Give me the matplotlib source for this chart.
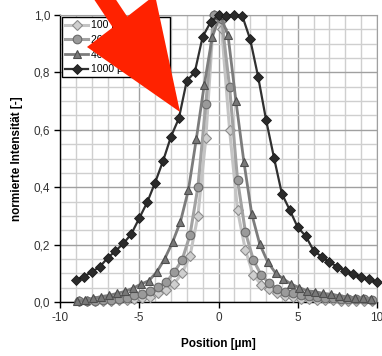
import numpy as np
import matplotlib
matplotlib.use("Agg")
import matplotlib.pyplot as plt
from matplotlib.patches import Polygon
from matplotlib.ticker import MultipleLocator

plt.rcParams['font.family'] = ['Liberation Sans', 'DejaVu Sans']

# ---- data ----
labels = ["100 µm Blende", "200 µm Blende", "400 µm Blende", "1000 µm Blende"]

x_100 = [-8.8, -8.3, -7.8, -7.3, -6.8, -6.3, -5.8, -5.3, -4.8, -4.3, -3.8, -3.3, -2.8, -2.3, -1.8, -1.3,
         -0.8, -0.3, 0.2, 0.7, 1.2, 1.7, 2.2, 2.7, 3.2, 3.7, 4.2, 4.7, 5.2, 5.7, 6.2, 6.7, 7.2, 7.7,
         8.2, 8.7, 9.2, 9.7]
y_100 = [0.002, 0.002, 0.003, 0.004, 0.005, 0.006, 0.008, 0.011, 0.014, 0.019, 0.031, 0.043, 0.064,
         0.100, 0.160, 0.300, 0.570, 1.000, 0.950, 0.600, 0.320, 0.180, 0.094, 0.060, 0.044, 0.030,
         0.022, 0.016, 0.012, 0.010, 0.008, 0.007, 0.006, 0.005, 0.004, 0.004, 0.003, 0.003]

x_200 = list(x_100)
y_200 = [0.003, 0.004, 0.005, 0.006, 0.008, 0.011, 0.015, 0.023, 0.029, 0.038, 0.052, 0.069, 0.104,
         0.146, 0.233, 0.400, 0.690, 1.000, 0.985, 0.748, 0.425, 0.243, 0.146, 0.093, 0.066, 0.047,
         0.036, 0.030, 0.024, 0.020, 0.017, 0.015, 0.013, 0.012, 0.011, 0.010, 0.009, 0.008]

x_400 = [-8.9, -8.4, -7.9, -7.4, -6.9, -6.4, -5.9, -5.4, -4.9, -4.4, -3.9, -3.4, -2.9, -2.4, -1.9, -1.4,
         -0.9, -0.4, 0.1, 0.6, 1.1, 1.6, 2.1, 2.6, 3.1, 3.6, 4.1, 4.6, 5.1, 5.6, 6.1, 6.6, 7.1, 7.6,
         8.1, 8.6, 9.1, 9.6]
y_400 = [0.003, 0.007, 0.013, 0.019, 0.023, 0.030, 0.037, 0.048, 0.062, 0.074, 0.104, 0.150, 0.208,
         0.280, 0.390, 0.568, 0.756, 0.922, 1.000, 0.930, 0.700, 0.489, 0.306, 0.202, 0.140, 0.101,
         0.080, 0.062, 0.050, 0.039, 0.036, 0.030, 0.027, 0.022, 0.018, 0.015, 0.013, 0.011]

x_1000 = [-9.0, -8.5, -8.0, -7.5, -7.0, -6.5, -6.0, -5.5, -5.0, -4.5, -4.0, -3.5, -3.0, -2.5, -2.0, -1.5,
          -1.0, -0.5, 0.0, 0.5, 1.0, 1.5, 2.0, 2.5, 3.0, 3.5, 4.0, 4.5, 5.0, 5.5, 6.0, 6.5, 7.0, 7.5,
          8.0, 8.5, 9.0, 9.5, 10.0]
y_1000 = [0.077, 0.088, 0.105, 0.122, 0.153, 0.178, 0.204, 0.237, 0.292, 0.347, 0.416, 0.491, 0.576,
          0.640, 0.771, 0.800, 0.924, 0.975, 1.000, 0.998, 1.000, 0.997, 0.915, 0.785, 0.635, 0.503,
          0.377, 0.320, 0.260, 0.230, 0.179, 0.158, 0.138, 0.123, 0.109, 0.096, 0.088, 0.079, 0.069]

xticks = [-10, -5, 0, 5, 10]
xtick_labels = ["-10", "-5", "0", "5", "10"]
yticks = [0.0, 0.2, 0.4, 0.6, 0.8, 1.0]
ytick_labels = ["0,0", "0,2", "0,4", "0,6", "0,8", "1,0"]

# ---- figure ----
W, H = 382, 356
fig = plt.figure(figsize=(W / 100, H / 100), dpi=100)
ax = fig.add_axes([60 / W, 1 - 302 / H, (377 - 60) / W, (302 - 15) / H])

styles = [
    dict(color="#c4c4c4", lw=2.2, marker="D", ms=4.8, mfc="#cfcfcf", mec="#8c8c8c", mew=0.8),
    dict(color="#a2a2a2", lw=2.2, marker="o", ms=6.2, mfc="#9a9a9a", mec="#6a6a6a", mew=0.8),
    dict(color="#7c7c7c", lw=2.0, marker="^", ms=6.2, mfc="#787878", mec="#4e4e4e", mew=0.8),
    dict(color="#303030", lw=1.6, marker="D", ms=5, mfc="#2a2a2a", mec="#1a1a1a", mew=0.6),
]
series = [(x_100, y_100), (x_200, y_200), (x_400, y_400), (x_1000, y_1000)]
for (xs, ys), lab, st in zip(series, labels, styles):
    ax.plot(xs, ys, label=lab, clip_on=False, zorder=3, **st)

ax.set_xlim(-10, 10)
ax.set_ylim(0, 1.0)
ax.set_xticks(xticks)
ax.set_xticklabels(xtick_labels)
ax.set_yticks(yticks)
ax.set_yticklabels(ytick_labels)
ax.xaxis.set_minor_locator(MultipleLocator(1))
ax.yaxis.set_minor_locator(MultipleLocator(0.05))
ax.grid(which="major", color="#a0a0a0", lw=1.0, zorder=0)
ax.grid(which="minor", color="#cfcfcf", lw=1.0, zorder=0)
ax.set_axisbelow(True)
ax.tick_params(which="minor", length=0)
ax.tick_params(which="major", direction="out", length=4, width=1, labelsize=8.5,
               labelcolor="#333333", pad=3)
for s in ["top", "right"]:
    ax.spines[s].set_color("#a0a0a0")
for s in ["left", "bottom"]:
    ax.spines[s].set_color("black")
    ax.spines[s].set_linewidth(1.0)

ax.set_xlabel("Position [µm]", fontsize=8.5, fontweight="bold", labelpad=10)
ax.set_ylabel("normierte Intensität [-]", fontsize=8.5, fontweight="bold", labelpad=8)

leg = ax.legend(loc="upper left", fontsize=7.5, frameon=True, fancybox=False,
                edgecolor="black", framealpha=1, borderpad=0.3, labelspacing=0.45,
                handlelength=2.2, handletextpad=0.3, borderaxespad=0.2)
leg.get_frame().set_linewidth(1.0)
leg.set_zorder(5)

# red arrow overlay (pixel coordinates converted to figure fraction)
pts_px = [(180, 112), (87, 47), (112.8, 27.4), (87.8, -10), (109.5, -10), (127.2, 16.6), (155, -5)]
pts = [(px / W, 1 - py / H) for px, py in pts_px]
arrow = Polygon(pts, closed=True, transform=fig.transFigure, facecolor="#ff2200",
                edgecolor="none", zorder=10)
fig.patches.append(arrow)

fig.savefig("out.png", dpi=100)
